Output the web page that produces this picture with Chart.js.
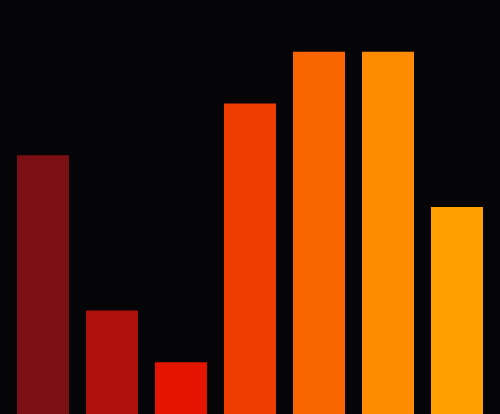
<!DOCTYPE html>
<html>
<head>
<meta charset="utf-8">
<script src="https://cdn.jsdelivr.net/npm/chart.js@4"></script>
<style>
  html, body { margin: 0; padding: 0; background: #050507; }
  #wrap { width: 500px; height: 414px; }
</style>
</head>
<body>
<div id="wrap"><canvas id="grafico"></canvas></div>
<script>
const categorias = ["A", "B", "C", "D", "E", "F", "G"];
const valores = [5, 2, 1, 6, 7, 7, 4];
const colores = ["#7b0f14", "#ad110a", "#e31500", "#ef3c00", "#f96600", "#ff8c00", "#ffa000"];

const ctx = document.getElementById("grafico");
new Chart(ctx, {
  type: "bar",
  data: {
    labels: categorias,
    datasets: [
      {
        data: valores,
        backgroundColor: colores,
        borderWidth: 0,
        categoryPercentage: 1,
        barPercentage: 0.754,
      },
    ],
  },
  options: {
    responsive: true,
    maintainAspectRatio: false,
    animation: false,
    layout: { padding: { left: 8.5, right: 8.5, top: 0, bottom: 0 } },
    plugins: { legend: { display: false }, tooltip: { enabled: false } },
    scales: {
      x: { display: false },
      y: { display: false, min: 0, max: 8 },
    },
  },
});
</script>
</body>
</html>
